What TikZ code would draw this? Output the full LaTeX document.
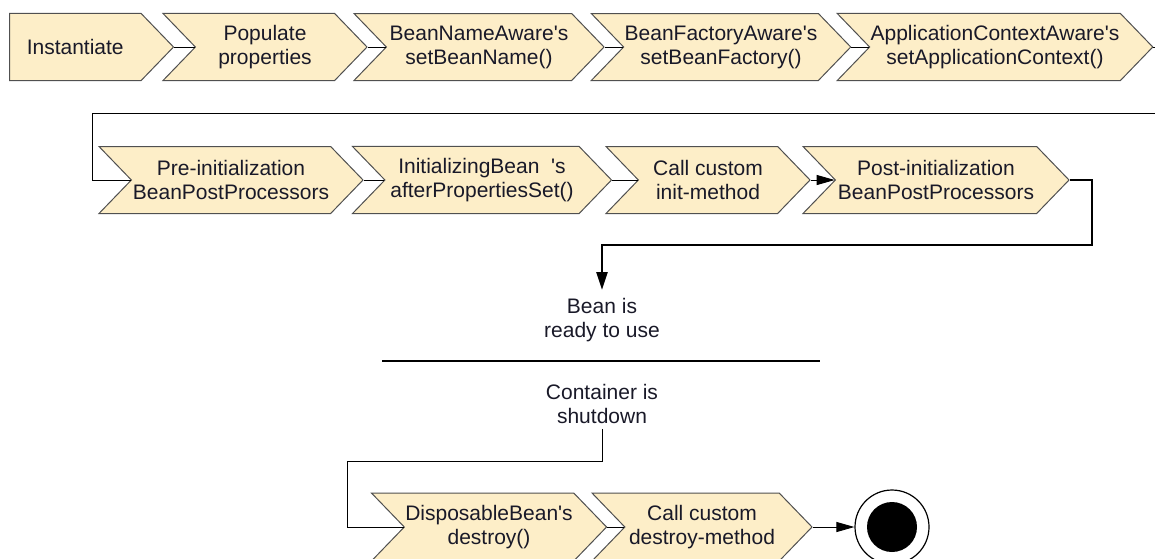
\documentclass[tikz,border=0pt]{standalone}
\usepackage{fontspec}
\setmainfont{Liberation Sans}
\usetikzlibrary{shapes.symbols, arrows.meta}
\definecolor{beanFill}{RGB}{253,238,200}
\definecolor{beanBorder}{RGB}{80,80,80}
\definecolor{beanText}{RGB}{25,25,40}
\newcommand\stepfont{\fontsize{21}{24}\selectfont}
\newcommand\apos{\textquotesingle}

\begin{document}
\begin{tikzpicture}[x=1pt, y=-1pt,
    every node/.style = {align=center, font=\stepfont, text=beanText},
    beanStep/.style = {shape=signal, signal to=east, signal from=west,
      signal pointer angle=92, draw=beanBorder, fill=beanFill,
      line width=1pt, minimum height=67pt, inner xsep=1pt, inner ysep=11.75pt},
    firstStep/.style = {beanStep, signal from=nowhere, inner ysep=26pt},
    flow/.style = {line width=0.9pt},
    flowArrow/.style = {flow, -{Triangle[length=18pt, width=10pt]}},
    lifeArrow/.style = {line width=2.5pt, -{Triangle[length=18pt, width=11pt]}},
    ]
    \useasboundingbox (0,0) rectangle (1155,558);
    % creation
    \node [firstStep, minimum width=164pt, anchor=west] (inst) at (9,47) {Instantiate};
    \node [beanStep, minimum width=204pt] (populate) at (265,47) {Populate\\properties};
    \node [beanStep, minimum width=250pt] (beanName) at (479,47) {BeanNameAware\apos s\\setBeanName()};
    \node [beanStep, minimum width=258pt] (beanFactory) at (721,47) {BeanFactoryAware\apos s\\setBeanFactory()};
    \node [beanStep, minimum width=314pt] (appContext) at (995,47) {ApplicationContextAware\apos s\\setApplicationContext()};
    % initialization
    \node [beanStep, minimum width=264pt] (preInit) at (231,180) {Pre-initialization\\BeanPostProcessors};
    \node [beanStep, minimum width=259pt] (afterProps) at (482,180) {InitializingBean\ \ \apos s\\afterPropertiesSet()};
    \node [beanStep, minimum width=204pt] (initMethod) at (708,180) {Call custom\\init-method};
    \node [beanStep, minimum width=266pt] (postInit) at (936,180) {Post-initialization\\BeanPostProcessors};
    % in use
    \node [inner sep=8pt] (ready) at (602,320) {Bean is\\ready to use};
    \node [inner sep=5pt] (shutdown) at (602,404) {Container is\\shutdown};
    % destruction
    \node [beanStep, minimum width=232pt, minimum height=68pt] (disposable) at (489,527) {DisposableBean\apos s\\destroy()};
    \node [beanStep, minimum width=220pt, minimum height=68pt] (destroyMethod) at (702,527) {Call custom\\destroy-method};
    \node [circle, draw, line width=1.2pt, fill=white, minimum size=74pt] (finish) at (892,527) {};
    \node [circle, fill=black, minimum size=50pt, inner sep=0pt] (finishDot) at (finish) {};

    \coordinate (wrapR) at (1200,113);
    \coordinate (wrapL) at (92,113);
    \coordinate (wrapB) at (1092,245);
    \coordinate (wrapC) at (347,461);
    \coordinate (sepL) at (382,361);
    \coordinate (sepR) at (820,361);

    \draw [flow] (inst.east) -- (populate.west);
    \draw [flow] (populate.east) -- (beanName.west);
    \draw [flow] (beanName.east) -- (beanFactory.west);
    \draw [flow] (beanFactory.east) -- (appContext.west);
    \draw [flow] (appContext.east) -| (wrapR) -- (wrapL) |- (preInit.west);
    \draw [flow] (preInit.east) -- (afterProps.west);
    \draw [flow] (afterProps.east) -- (initMethod.west);
    \draw [flowArrow] (initMethod.east) -- (postInit.west);
    \draw [lifeArrow] (postInit.east) -| (wrapB) -| (ready.north);
    \draw [line width=2.2pt] (sepL) -- (sepR);
    \draw [flow] (shutdown.south) |- (wrapC) |- (disposable.west);
    \draw [flow] (disposable.east) -- (destroyMethod.west);
    \draw [flowArrow] (destroyMethod.east) -- (finish.west);
\end{tikzpicture}
\end{document}
